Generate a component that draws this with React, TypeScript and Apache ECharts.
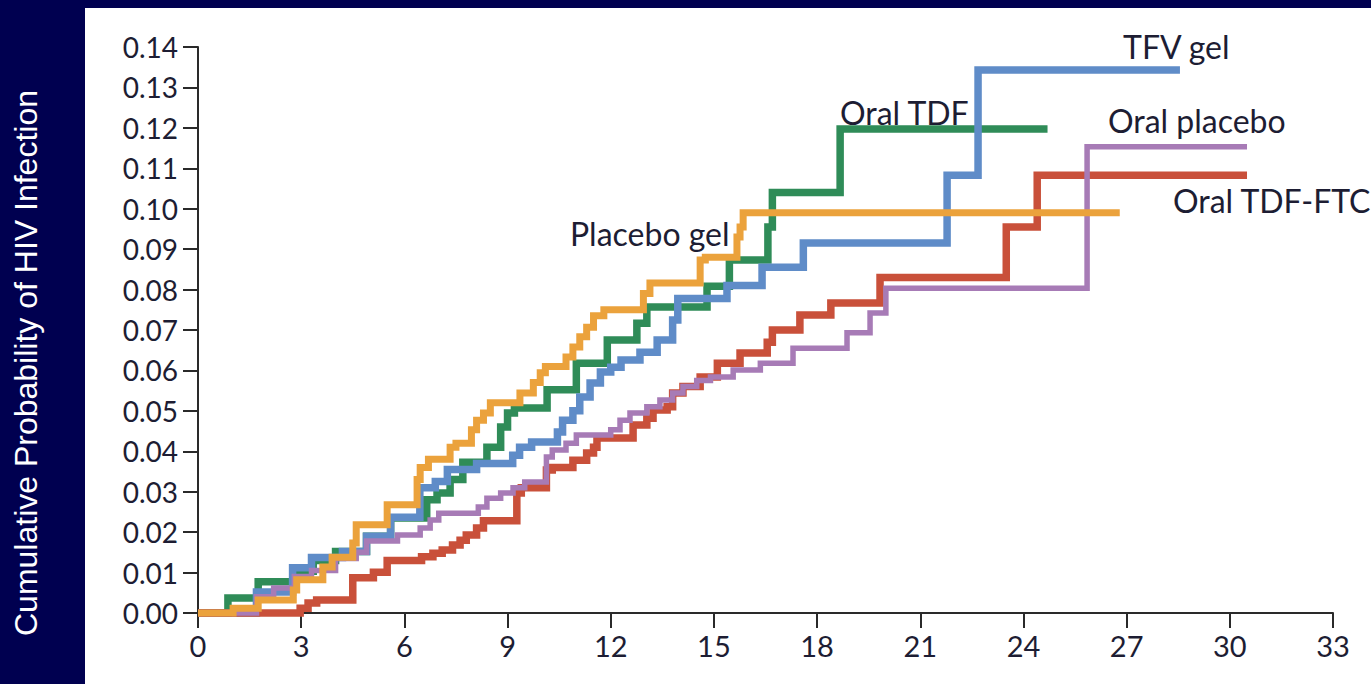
import React, { useEffect, useRef } from "react";
import * as echarts from "echarts";

// Months since enrollment vs cumulative probability of HIV infection (step data: value holds from x onward)
const tfvGel: [number, number][] = [
  [0, 0], [1.7, 0.0052], [2.75, 0.0112], [3.3, 0.0137], [4.2, 0.0152], [4.9, 0.019], [5.6, 0.0237],
  [6.45, 0.031], [6.9, 0.0325], [7.25, 0.0355], [8.1, 0.037], [9.15, 0.039], [9.35, 0.041], [9.7, 0.0423],
  [10.45, 0.0448], [10.6, 0.0477], [10.9, 0.05], [11.1, 0.0534], [11.4, 0.0569], [11.7, 0.0596],
  [12.0, 0.0608], [12.3, 0.0626], [12.85, 0.0645], [13.35, 0.0675], [13.8, 0.0725], [13.95, 0.0778],
  [15.38, 0.081], [16.4, 0.0855], [17.6, 0.0915], [21.78, 0.1083], [22.68, 0.1343], [28.55, 0.1343],
];

const oralTDF: [number, number][] = [
  [0, 0], [0.87, 0.0037], [1.75, 0.0077], [2.8, 0.0103], [3.35, 0.013], [4.0, 0.0152], [4.9, 0.019],
  [5.6, 0.0235], [6.65, 0.028], [6.95, 0.0297], [7.33, 0.033], [7.7, 0.0373], [8.4, 0.041], [8.8, 0.046],
  [9.0, 0.0495], [9.2, 0.0507], [10.15, 0.0552], [11.0, 0.0618], [11.9, 0.0675], [12.76, 0.0717],
  [13.05, 0.0757], [14.8, 0.0808], [15.45, 0.0873], [16.57, 0.0955], [16.7, 0.104], [18.67, 0.1197],
  [24.7, 0.1197],
];

const placeboGel: [number, number][] = [
  [0, 0], [1.02, 0.0012], [1.75, 0.0032], [2.77, 0.0057], [2.87, 0.0082], [3.63, 0.0114], [3.9, 0.0138],
  [4.5, 0.0173], [4.6, 0.0218], [5.5, 0.0268], [6.37, 0.033], [6.46, 0.036], [6.7, 0.038], [7.33, 0.041],
  [7.5, 0.042], [7.95, 0.0453], [8.1, 0.0477], [8.3, 0.0495], [8.5, 0.052], [9.36, 0.0544], [9.75, 0.057],
  [9.95, 0.0594], [10.1, 0.061], [10.7, 0.0633], [10.9, 0.0658], [11.1, 0.0683], [11.3, 0.0707],
  [11.5, 0.0735], [11.8, 0.075], [12.95, 0.079], [13.14, 0.0816], [14.6, 0.0873], [14.75, 0.088],
  [15.67, 0.093], [15.76, 0.0955], [15.85, 0.099], [26.8, 0.099],
];

const oralTDFFTC: [number, number][] = [
  [0, 0], [2.97, 0.0012], [3.2, 0.0025], [3.45, 0.0032], [4.5, 0.0087], [5.1, 0.0101], [5.5, 0.013],
  [6.5, 0.0139], [6.83, 0.0148], [7.1, 0.0156], [7.4, 0.0168], [7.62, 0.018], [7.8, 0.0193], [8.1, 0.021],
  [8.3, 0.0228], [9.27, 0.0297], [9.4, 0.031], [10.13, 0.0354], [10.3, 0.036], [10.9, 0.0378],
  [11.3, 0.0396], [11.5, 0.041], [11.6, 0.0433], [12.65, 0.0465], [13.05, 0.0482], [13.23, 0.0502],
  [13.64, 0.051], [13.8, 0.0544], [14.1, 0.056], [14.6, 0.0584], [15.1, 0.0618], [15.76, 0.0643],
  [16.55, 0.067], [16.7, 0.07], [17.5, 0.0737], [18.4, 0.0767], [19.83, 0.083], [23.5, 0.0955],
  [24.4, 0.1083], [30.5, 0.1083],
];

const oralPlacebo: [number, number][] = [
  [0, 0], [1.7, 0.004], [2.2, 0.0062], [2.8, 0.009], [3.3, 0.0105], [4.0, 0.0135], [4.6, 0.015],
  [4.9, 0.0178], [5.8, 0.0193], [6.46, 0.021], [6.75, 0.023], [7.0, 0.0247], [8.15, 0.0262],
  [8.4, 0.0284], [8.8, 0.0297], [9.16, 0.031], [9.5, 0.0324], [10.13, 0.0386], [10.3, 0.0403],
  [10.7, 0.042], [11.0, 0.044], [12.0, 0.0453], [12.27, 0.0477], [12.56, 0.0495], [13.05, 0.051],
  [13.43, 0.0527], [13.8, 0.0544], [14.1, 0.056], [14.5, 0.0575], [14.9, 0.0584], [15.56, 0.0601],
  [16.35, 0.0618], [17.3, 0.0655], [18.87, 0.0693], [19.54, 0.0742], [20.0, 0.0803], [25.85, 0.1153],
  [30.5, 0.1153],
];

const seriesNames = ["Oral TDF", "TFV gel", "Oral TDF-FTC", "Oral placebo", "Placebo gel"];
const yAxisTitle = "Cumulative Probability of HIV Infection";

export default function App() {
  const ref = useRef<HTMLDivElement>(null);

  useEffect(() => {
    if (!ref.current) return;
    const chart = echarts.init(ref.current, undefined, { renderer: "svg" });
    const textColor = "#1d1d33";
    const labelFont = "Lato, 'Open Sans', sans-serif";
    const mk = (name: string, data: [number, number][], color: string, width: number) => ({
      name,
      type: "line",
      step: "end",
      data,
      showSymbol: false,
      symbol: "none",
      clip: false,
      lineStyle: { color, width, cap: "butt", join: "miter" },
      itemStyle: { color },
      emphasis: { disabled: true },
    });
    chart.setOption({
      animation: false,
      backgroundColor: "transparent",
      grid: { left: 198, right: 38, top: 47, bottom: 71, containLabel: false },
      xAxis: {
        type: "value",
        min: 0,
        max: 33,
        interval: 3,
        axisLine: { show: true, lineStyle: { color: "#2a2a2a", width: 2 } },
        axisTick: { show: true, length: 15, lineStyle: { color: "#2a2a2a", width: 2 } },
        splitLine: { show: false },
        axisLabel: { fontSize: 29, fontFamily: labelFont, color: textColor, margin: 18 },
      },
      yAxis: {
        type: "value",
        min: 0,
        max: 0.14,
        interval: 0.01,
        axisLine: { show: true, lineStyle: { color: "#2a2a2a", width: 2 } },
        axisTick: { show: true, length: 15, lineStyle: { color: "#2a2a2a", width: 2 } },
        splitLine: { show: false },
        axisLabel: {
          fontSize: 28,
          fontFamily: labelFont,
          color: textColor,
          margin: 20,
          formatter: (v: number) => v.toFixed(2),
        },
      },
      series: [
        mk(seriesNames[0], oralTDF, "#2f8c58", 7.5),
        mk(seriesNames[1], tfvGel, "#5f8cc8", 7.5),
        mk(seriesNames[2], oralTDFFTC, "#c9503a", 7.5),
        mk(seriesNames[3], oralPlacebo, "#a77bb6", 5.5),
        mk(seriesNames[4], placeboGel, "#eba23c", 7),
      ],
      graphic: [
        {
          type: "text",
          x: 26,
          y: 363,
          rotation: Math.PI / 2,
          style: {
            text: yAxisTitle,
            fill: "#ffffff",
            font: "32px 'Liberation Sans', Arial, sans-serif",
            align: "center",
            verticalAlign: "middle",
          },
        },
        { type: "text", x: 1123, y: 46, style: { text: seriesNames[1], fill: textColor, font: `32px ${labelFont}`, align: "left", verticalAlign: "middle" } },
        { type: "text", x: 840, y: 112, style: { text: seriesNames[0], fill: textColor, font: `32px ${labelFont}`, align: "left", verticalAlign: "middle" } },
        { type: "text", x: 1108, y: 120, style: { text: seriesNames[3], fill: textColor, font: `32px ${labelFont}`, align: "left", verticalAlign: "middle" } },
        { type: "text", x: 1173, y: 200, style: { text: seriesNames[2], fill: textColor, font: `32px ${labelFont}`, align: "left", verticalAlign: "middle" } },
        { type: "text", x: 570, y: 233, style: { text: seriesNames[4], fill: textColor, font: `32px ${labelFont}`, align: "left", verticalAlign: "middle" } },
      ],
    });
    return () => chart.dispose();
  }, []);

  return (
    <div style={{ position: "fixed", left: 0, top: 0, width: 1371, height: 684, background: "#000050", overflow: "hidden" }}>
      <div style={{ position: "absolute", left: 85, top: 8, right: 0, bottom: 0, background: "#ffffff" }} />
      <div ref={ref} style={{ position: "absolute", left: 0, top: 0, width: 1371, height: 684 }} />
    </div>
  );
}
